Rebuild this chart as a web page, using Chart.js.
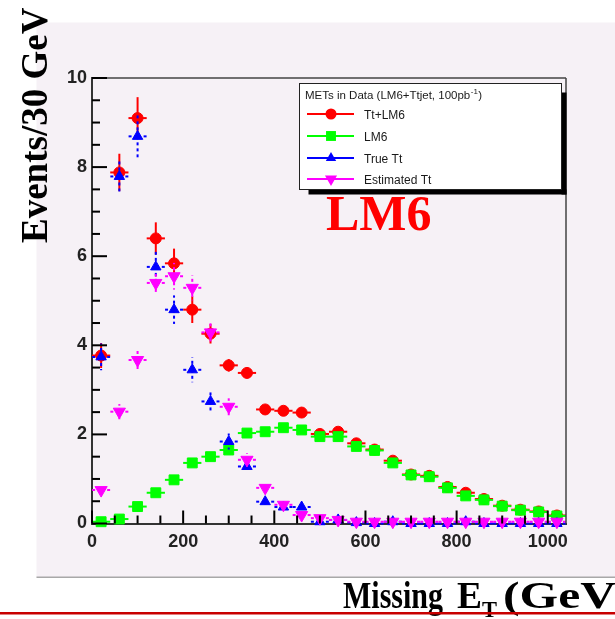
<!DOCTYPE html>
<html>
<head>
<meta charset="utf-8">
<title>Missing ET - LM6</title>
<script src="https://cdn.jsdelivr.net/npm/chart.js@4.4.0/dist/chart.umd.min.js"></script>
<style>
  html, body { margin: 0; padding: 0; background: #fff; }
  #metChart { display: block; }
</style>
</head>
<body>
<canvas id="metChart" width="615" height="619"></canvas>
<script>
// bin centres (GeV) and values
var xBins = [20, 60, 100, 140, 180, 220, 260, 300, 340, 380, 420, 460, 500,
             540, 580, 620, 660, 700, 740, 780, 820, 860, 900, 940, 980, 1020];
var binHalfWidth = 20;

var ttLm6    = [3.77, 7.88, 9.10, 6.40, 5.84, 4.80, 4.26, 3.55, 3.38, 2.56, 2.53, 2.49, 2.01,
                2.06, 1.80, 1.66, 1.41, 1.10, 1.07, 0.82, 0.69, 0.55, 0.40, 0.31, 0.27, 0.18];
var ttLm6Err = [0.28, 0.42, 0.47, 0.36, 0.33, 0.30, 0.22, 0.14, 0.12, 0.07, 0.06, 0.06, 0.05,
                0.06, 0.05, 0.04, 0.05, 0.04, 0.03, 0.03, 0.04, 0.02, 0.02, 0.02, 0.02, 0.02];

var lm6      = [0.04, 0.10, 0.38, 0.69, 0.98, 1.36, 1.50, 1.65, 2.03, 2.06, 2.15, 2.10, 1.95,
                1.95, 1.73, 1.64, 1.36, 1.09, 1.05, 0.80, 0.62, 0.53, 0.39, 0.30, 0.26, 0.17];
var lm6Err   = [0.01, 0.01, 0.02, 0.02, 0.03, 0.03, 0.03, 0.03, 0.03, 0.03, 0.03, 0.03, 0.03,
                0.03, 0.03, 0.03, 0.03, 0.02, 0.02, 0.02, 0.02, 0.02, 0.02, 0.02, 0.02, 0.01];

var trueTt   = [3.74, 7.79, 8.69, 5.76, 4.80, 3.45, 2.74, 1.84, 1.28, 0.49, 0.37, 0.37, 0.04,
                0.08, 0.02, 0.00, 0.04, 0.00, 0.00, 0.00, 0.04, 0.00, 0.00, 0.00, 0.00, 0.00];
var trueTtErr= [0.30, 0.40, 0.47, 0.35, 0.32, 0.28, 0.22, 0.18, 0.13, 0.10, 0.08, 0.08, 0.04,
                0.04, 0.02, 0.00, 0.04, 0.00, 0.00, 0.00, 0.04, 0.00, 0.00, 0.00, 0.00, 0.00];

var estTt    = [0.75, 2.51, 3.67, 5.40, 5.55, 5.29, 4.29, 2.62, 1.43, 0.80, 0.42, 0.19, 0.12,
                0.08, 0.04, 0.04, 0.04, 0.04, 0.04, 0.04, 0.04, 0.04, 0.04, 0.04, 0.04, 0.04];
var estTtErr = [0.10, 0.17, 0.26, 0.24, 0.30, 0.28, 0.24, 0.19, 0.15, 0.12, 0.08, 0.06, 0.04,
                0.03, 0.02, 0.02, 0.02, 0.02, 0.02, 0.02, 0.02, 0.02, 0.02, 0.02, 0.02, 0.02];

var xTicks = [0, 200, 400, 600, 800, 1000];
var yTicks = [0, 2, 4, 6, 8, 10];
var xMinorStep = 50, yMinorStep = 0.5;

function toPoints(vals) {
    return xBins.map(function (x, i) { return { x: x, y: vals[i] }; });
}

function drawMarker(ctx, style, x, y, r, rot, color) {
    ctx.save();
    ctx.fillStyle = color;
    ctx.beginPath();
    if (style === 'circle') {
        ctx.arc(x, y, r, 0, Math.PI * 2);
    } else if (style === 'rect') {
        var s = r * Math.SQRT1_2;
        ctx.rect(x - s, y - s, 2 * s, 2 * s);
    } else {
        var dir = rot ? -1 : 1;
        ctx.moveTo(x, y - dir * r);
        ctx.lineTo(x + r * 0.866, y + dir * r * 0.5);
        ctx.lineTo(x - r * 0.866, y + dir * r * 0.5);
        ctx.closePath();
    }
    ctx.fill();
    ctx.restore();
}

// draw a piece of text squeezed/stretched to a given width
function fitText(ctx, txt, x, y, width) {
    var w = ctx.measureText(txt).width;
    ctx.save();
    ctx.translate(x, y);
    ctx.scale(width / w, 1);
    ctx.fillText(txt, 0, 0);
    ctx.restore();
}

var rootStyle = {
    id: 'rootStyle',
    beforeDraw: function (chart) {
        var ctx = chart.ctx;
        ctx.save();
        ctx.fillStyle = '#ffffff';
        ctx.fillRect(0, 0, chart.width, chart.height);
        ctx.fillStyle = '#f6f1f6';
        ctx.fillRect(36.5, 22.5, chart.width - 36.5, 555);
        ctx.fillStyle = '#a8a8a8';
        ctx.fillRect(36.5, 576.5, chart.width - 36.5, 1.5);
        ctx.restore();
    },
    afterDatasetsDraw: function (chart) {
        var ctx = chart.ctx, a = chart.chartArea;
        var xs = chart.scales.x, ys = chart.scales.y;
        ctx.save();
        ctx.fillStyle = '#444';
        ctx.fillRect(a.left, a.top - 0.75, a.right - a.left, 1.5);
        ctx.fillRect(a.right - 0.75, a.top, 1.5, a.bottom - a.top);
        // inward ticks, majors longer
        ctx.fillStyle = '#000';
        var n, v, p, len;
        for (n = 0; n <= 20; n++) {
            v = n * yMinorStep;
            p = ys.getPixelForValue(v);
            len = (yTicks.indexOf(v) >= 0) ? 15 : 8;
            ctx.fillRect(a.left, p - 1, len, 2);
        }
        for (n = 0; n * xMinorStep <= 1040; n++) {
            v = n * xMinorStep;
            p = xs.getPixelForValue(v);
            len = (xTicks.indexOf(v) >= 0) ? 13 : 8;
            ctx.fillRect(p - 1, a.bottom - len, 2, len);
        }
        ctx.restore();
    },
    beforeDatasetDraw: function (chart, args) {
        var ds = chart.data.datasets[args.index];
        var ctx = chart.ctx, xs = chart.scales.x, ys = chart.scales.y;
        ctx.save();
        ctx.strokeStyle = ds.borderColor;
        ctx.lineWidth = 2;
        ds.data.forEach(function (p, i) {
            var px = xs.getPixelForValue(p.x), py = ys.getPixelForValue(p.y);
            var segs = [[xs.getPixelForValue(p.x - binHalfWidth), py],
                        [xs.getPixelForValue(p.x + binHalfWidth), py]];
            var e = ds.errs[i];
            if (e > 0) {
                segs.push([px, ys.getPixelForValue(p.y + e)]);
                segs.push([px, ys.getPixelForValue(Math.max(0, p.y - e))]);
            }
            segs.forEach(function (s) {
                ctx.setLineDash(ds.errDash);
                ctx.beginPath();
                ctx.moveTo(px, py);
                ctx.lineTo(s[0], s[1]);
                ctx.stroke();
            });
        });
        ctx.restore();
    },
    afterDraw: function (chart) {
        var ctx = chart.ctx;
        ctx.save();

        // legend box with shadow
        var lx = 299.5, ly = 83.5, lw = 262, lh = 106;
        ctx.fillStyle = '#000';
        ctx.fillRect(lx + lw, ly + 9, 5, lh - 4);
        ctx.fillRect(lx + 9, ly + lh, lw - 4, 5);
        ctx.fillStyle = '#fff';
        ctx.fillRect(lx, ly, lw, lh);
        ctx.strokeStyle = '#222';
        ctx.lineWidth = 1;
        ctx.strokeRect(lx, ly, lw, lh);

        ctx.fillStyle = '#1a1a1a';
        ctx.textBaseline = 'alphabetic';
        ctx.textAlign = 'left';
        ctx.font = '11.5px "Liberation Sans", Arial, sans-serif';
        var t1 = 'METs in Data (LM6+Ttjet, 100pb';
        ctx.fillText(t1, 305, 99);
        var w1 = ctx.measureText(t1).width;
        ctx.font = '8px "Liberation Sans", Arial, sans-serif';
        ctx.fillText('-1', 305 + w1 + 0.5, 94);
        var w2 = ctx.measureText('-1').width;
        ctx.font = '11.5px "Liberation Sans", Arial, sans-serif';
        ctx.fillText(')', 305 + w1 + w2 + 1, 99);

        var rows = [114, 136, 158, 179];
        ctx.font = '12px "Liberation Sans", Arial, sans-serif';
        chart.data.datasets.forEach(function (ds, i) {
            var y = rows[i];
            ctx.strokeStyle = ds.borderColor;
            ctx.lineWidth = 2;
            ctx.beginPath();
            ctx.moveTo(307, y);
            ctx.lineTo(354, y);
            ctx.stroke();
            drawMarker(ctx, ds.pointStyle, 331, y, ds.pointRadius, ds.pointRotation, ds.backgroundColor);
            ctx.fillStyle = '#1a1a1a';
            ctx.fillText(ds.label, 364, y + 4.5);
        });

        // LM6 tag
        ctx.fillStyle = '#ff0000';
        ctx.font = 'bold 50px "Liberation Serif", "Times New Roman", serif';
        ctx.fillText('LM6', 326, 230);

        // y title
        ctx.fillStyle = '#000';
        ctx.save();
        ctx.translate(47, 243);
        ctx.rotate(-Math.PI / 2);
        ctx.font = 'bold 37px "Liberation Serif", "Times New Roman", serif';
        ctx.fillText('Events/30 GeV', 0, 0);
        ctx.restore();

        // x title (cut at the right edge like the slide)
        var big = 'bold 38px "Liberation Serif", "Times New Roman", serif';
        ctx.font = big;
        fitText(ctx, 'Missing', 343, 608, 100);
        fitText(ctx, 'E', 457, 608, 25);
        ctx.font = 'bold 24px "Liberation Serif", "Times New Roman", serif';
        fitText(ctx, 'T', 482, 617, 15);
        ctx.font = big;
        var gw = ctx.measureText('(GeV').width;
        var sc = 113 / gw;
        fitText(ctx, '(GeV)', 503, 608, ctx.measureText('(GeV)').width * sc);

        ctx.fillStyle = '#c80000';
        ctx.fillRect(0, 612, chart.width, 2.5);
        ctx.restore();
    }
};

var tickFont = { family: '"Liberation Sans", Arial, sans-serif', weight: 'bold', size: 18 };
function plainLabel(v) { return String(v); }

var ctxM = document.getElementById('metChart').getContext('2d');
var metChart = new Chart(ctxM, {
    type: 'scatter',
    data: {
        datasets: [
            { label: 'Tt+LM6', data: toPoints(ttLm6), errs: ttLm6Err, errDash: [],
              borderColor: '#ff0000', backgroundColor: '#ff0000',
              pointStyle: 'circle', pointRadius: 5.5, pointRotation: 0, order: 4 },
            { label: 'LM6', data: toPoints(lm6), errs: lm6Err, errDash: [],
              borderColor: '#00ff00', backgroundColor: '#00ff00',
              pointStyle: 'rect', pointRadius: 7, pointRotation: 0, order: 3 },
            { label: 'True Tt', data: toPoints(trueTt), errs: trueTtErr, errDash: [3, 3],
              borderColor: '#0000ff', backgroundColor: '#0000ff',
              pointStyle: 'triangle', pointRadius: 6, pointRotation: 0, order: 2 },
            { label: 'Estimated Tt', data: toPoints(estTt), errs: estTtErr, errDash: [3, 3],
              borderColor: '#ff00ff', backgroundColor: '#ff00ff',
              pointStyle: 'triangle', pointRadius: 7, pointRotation: 180, order: 1 }
        ]
    },
    options: {
        responsive: false,
        animation: false,
        devicePixelRatio: 1,
        layout: { padding: { left: 0, top: 78, right: 49, bottom: 55.5 } },
        elements: { point: { borderWidth: 1, hoverRadius: 5 } },
        datasets: { scatter: { clip: false } },
        plugins: { legend: { display: false }, tooltip: { enabled: false } },
        scales: {
            x: {
                type: 'linear', min: 0, max: 1040,
                afterBuildTicks: function (s) { s.ticks = xTicks.map(function (v) { return { value: v }; }); },
                afterFit: function (s) { s.height = 40; },
                grid: { display: false, drawTicks: false },
                border: { display: true, color: '#333', width: 2 },
                ticks: { font: tickFont, color: '#222', padding: 8, maxRotation: 0, autoSkip: false, callback: plainLabel }
            },
            y: {
                type: 'linear', min: 0, max: 10,
                afterBuildTicks: function (s) { s.ticks = yTicks.map(function (v) { return { value: v }; }); },
                afterFit: function (s) { s.width = 92; },
                grid: { display: false, drawTicks: false },
                border: { display: true, color: '#333', width: 2 },
                ticks: { font: tickFont, color: '#222', padding: 5, callback: plainLabel }
            }
        }
    },
    plugins: [rootStyle]
});
</script>
</body>
</html>
